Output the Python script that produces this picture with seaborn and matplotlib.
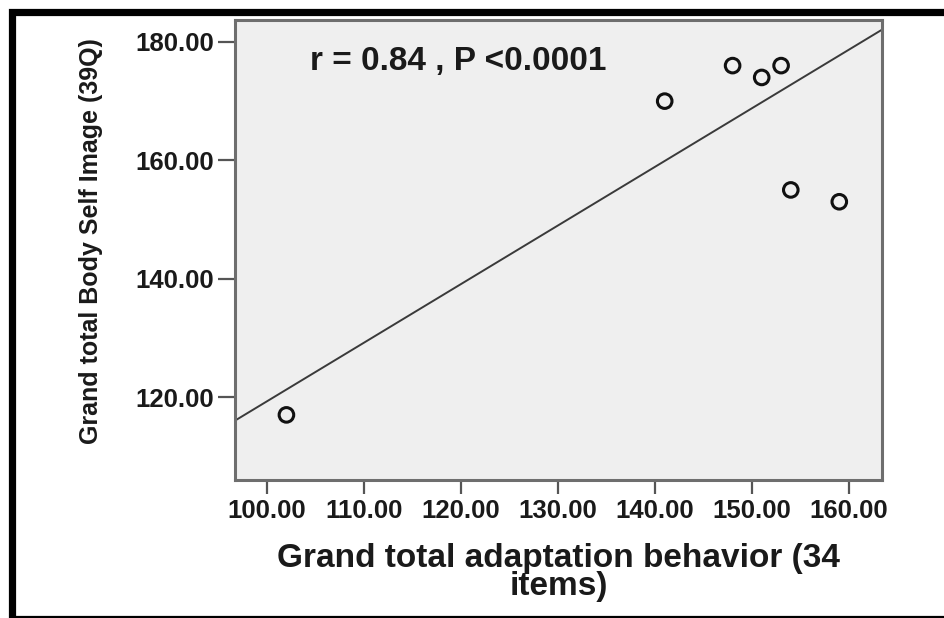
import numpy as np
import pandas as pd
import seaborn as sns
import matplotlib.pyplot as plt
from matplotlib.patches import Rectangle

# values
adaptation = [102, 141, 148, 151, 153, 154, 159]
body_image = [117, 170, 176, 174, 176, 155, 153]

# fitted line as drawn in the reference
fit_slope = 0.99
fit_intercept = 20.3

x_ticks = [100, 110, 120, 130, 140, 150, 160]
y_ticks = [120, 140, 160, 180]

stat_text = "r = 0.84 , P <0.0001"
x_label = "Grand total adaptation behavior (34\nitems)"
y_label = "Grand total Body Self Image (39Q)"

df = pd.DataFrame({"adapt": adaptation, "body": body_image})

sns.set_style("ticks")
plt.rcParams['font.family'] = ['Liberation Sans', 'DejaVu Sans']

fig = plt.figure(figsize=(9.45, 6.18), dpi=100)
ax = fig.add_axes([0.2487, 0.2233, 0.6846, 0.7443])
ax.set_facecolor("#efefef")

sns.scatterplot(data=df, x="adapt", y="body", ax=ax,
                marker="o", s=110, facecolors="none",
                edgecolor="#111111", linewidth=2.2, zorder=3)

ax.axline((0, fit_intercept), slope=fit_slope, color="#3a3a3a", lw=1.4, zorder=2)

ax.set_xlim(96.7, 163.4)
ax.set_ylim(106.0, 183.7)
ax.set_xticks(x_ticks)
ax.set_yticks(y_ticks)
ax.set_xticklabels([f"{v:.2f}" for v in x_ticks], fontsize=18.5, fontweight="bold", color="#1a1a1a")
ax.set_yticklabels([f"{v:.2f}" for v in y_ticks], fontsize=18.5, fontweight="bold", color="#1a1a1a")
ax.tick_params(axis="x", length=10, width=1.6, color="#555555", pad=4, direction="out")
ax.tick_params(axis="y", length=12, width=1.6, color="#555555", pad=3, direction="out")

for sp in ax.spines.values():
    sp.set_color("#6e6e6e")
    sp.set_linewidth(2.2)

ax.set_xlabel(x_label, fontsize=24, fontweight="bold", color="#1a1a1a", linespacing=0.88)
ax.set_ylabel(y_label, fontsize=18, fontweight="bold", color="#1a1a1a")
ax.xaxis.set_label_coords(0.5, -0.136)
ax.yaxis.set_label_coords(-0.204, 0.52)

ax.text(0.116, 0.909, stat_text, transform=ax.transAxes, fontsize=24,
        fontweight="bold", color="#1a1a1a", va="center", ha="left")

# black frame around the whole picture (open on the right, as in the reference)
frame = Rectangle((12.5 / 945, -0.5 / 618), 1.2, 1 - 11.5 / 618 + 0.5 / 618,
                  transform=fig.transFigure, fill=False, ec="black", lw=5.2,
                  clip_on=False)
fig.patches.append(frame)

fig.savefig("out.png", dpi=100)
